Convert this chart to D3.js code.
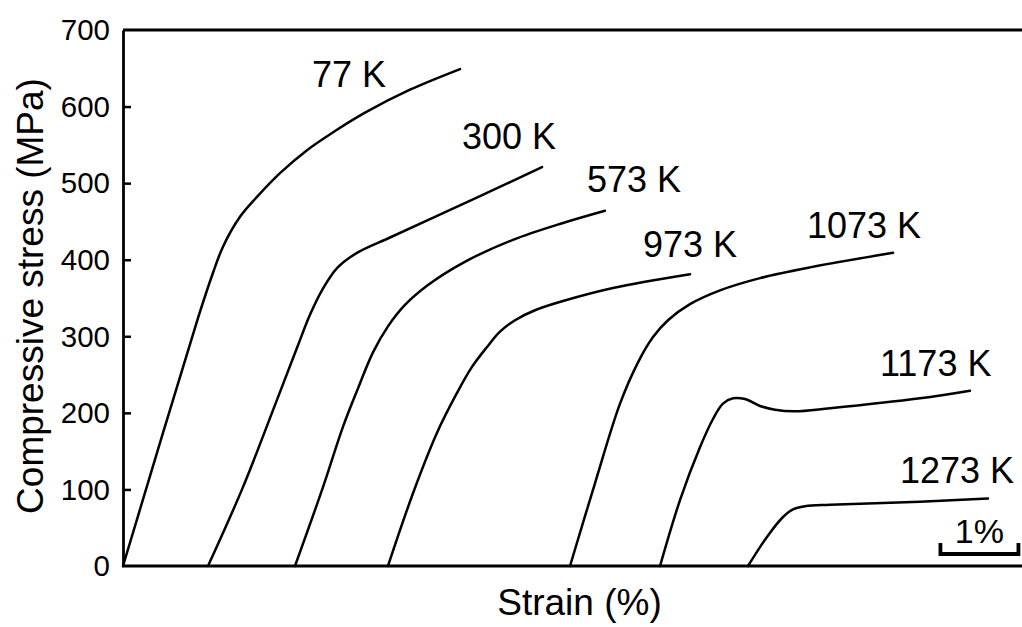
<!DOCTYPE html>
<html>
<head>
<meta charset="utf-8">
<script src="https://cdn.jsdelivr.net/npm/d3@7"></script>
<style>
  html, body { margin: 0; padding: 0; background: #fff; }
  svg { display: block; }
  text { font-family: "Liberation Sans", Arial, sans-serif; fill: #000; }
</style>
</head>
<body>
<svg id="chart" width="1022" height="627"></svg>
<script>
// ---- data (strain %, compressive stress MPa), curves offset along strain ----
const temperatures = ["77 K", "300 K", "573 K", "973 K", "1073 K", "1173 K", "1273 K"];

const curve77K = [[0,0],[0.962,324],[1.154,383],[1.282,417],[1.5,456],[1.718,482],[2.013,513],[2.359,543],[2.718,568],[3.103,592],[3.679,622],[4.321,649]];
const curve300K = [[1.09,0],[1.538,103],[1.974,217],[2.231,285],[2.397,328],[2.551,360],[2.744,389],[3.0,409],[3.423,429],[3.936,453],[4.577,483],[5.372,521]];
const curve573K = [[2.205,0],[2.564,103],[2.821,182],[3.013,232],[3.205,279],[3.397,313],[3.615,341],[3.91,367],[4.359,396],[5.0,426],[5.641,448],[6.179,464]];
const curve973K = [[3.397,0],[3.718,95],[4.026,174],[4.282,226],[4.474,260],[4.667,286],[4.833,306],[5.026,321],[5.282,334],[5.641,346],[6.282,363],[7.269,381]];
const curve1073K = [[5.731,0],[6.051,108],[6.372,212],[6.603,266],[6.795,299],[6.987,321],[7.269,342],[7.654,360],[8.167,376],[8.808,390],[9.872,409]];
const curve1173K = [[6.885,0],[7.141,86],[7.397,155],[7.564,192],[7.692,212],[7.821,219],[7.974,218],[8.167,209],[8.359,204],[8.615,202],[9.064,206],[10.218,219],[10.859,229]];
const curve1273K = [[8.013,0],[8.256,38],[8.462,64],[8.59,74],[8.744,78],[9.064,80],[10.218,84],[11.09,88]];

const curves = [curve77K, curve300K, curve573K, curve973K, curve1073K, curve1173K, curve1273K];

// label anchor (left/baseline) in data units
const labelStrain = [2.423, 4.346, 5.949, 6.667, 8.769, 9.705, 9.962];
const labelStress = [626, 544, 488, 404, 428, 248, 109];

const yTicks = [0, 100, 200, 300, 400, 500, 600, 700];
const scaleBarStrain = [10.48, 11.48];
const scaleBarLabel = "1%";
const xTitle = "Strain (%)";
const yTitle = "Compressive stress (MPa)";

// ---- layout ----
const svg = d3.select("#chart");
const mLeft = 123, mRight = 1020, mTop = 30, mBottom = 566;

const x = d3.scaleLinear().domain([0, 11.5]).range([mLeft, mRight]);
const y = d3.scaleLinear().domain([0, 700]).range([mBottom, mTop]);

// frame lines: top and bottom
svg.append("line").attr("x1", mLeft).attr("x2", 1022).attr("y1", mTop).attr("y2", mTop)
  .attr("stroke", "#000").attr("stroke-width", 2.8);
svg.append("line").attr("x1", mLeft - 1).attr("x2", 1022).attr("y1", mBottom).attr("y2", mBottom)
  .attr("stroke", "#000").attr("stroke-width", 2.8);

// left axis
const yAxis = d3.axisLeft(y).tickValues(yTicks).tickSizeInner(-8).tickSizeOuter(0).tickPadding(13);
const gy = svg.append("g").attr("transform", `translate(${mLeft},0)`).call(yAxis);
gy.select(".domain").attr("stroke", "#000").attr("stroke-width", 2.8);
gy.selectAll(".tick line").attr("stroke", "#000").attr("stroke-width", 2.5)
  .filter(d => d === 0 || d === 700).remove();
gy.selectAll(".tick text")
  .style("font-family", '"Liberation Sans", Arial, sans-serif')
  .style("font-size", "29.5px").attr("fill", "#000").attr("dy", "0.33em");

// curves
const line = d3.line().x(d => x(d[0])).y(d => y(d[1])).curve(d3.curveCatmullRom.alpha(0.5));
svg.append("g").selectAll("path").data(curves).join("path")
  .attr("d", line).attr("fill", "none").attr("stroke", "#000").attr("stroke-width", 2.5)
  .attr("stroke-linecap", "round").attr("stroke-linejoin", "round");

// labels
svg.append("g").selectAll("text").data(temperatures).join("text")
  .attr("x", (d, i) => x(labelStrain[i]))
  .attr("y", (d, i) => y(labelStress[i]))
  .style("font-size", "36px")
  .text(d => d);

// scale bar
const sb0 = x(scaleBarStrain[0]), sb1 = x(scaleBarStrain[1]);
svg.append("path")
  .attr("d", `M${sb0},543 V554 H${sb1} V543`)
  .attr("fill", "none").attr("stroke", "#000").attr("stroke-width", 3.8);
svg.append("text").attr("x", (sb0 + sb1) / 2).attr("y", 543)
  .attr("text-anchor", "middle").style("font-size", "34px").text(scaleBarLabel);

// axis titles
svg.append("text").attr("x", (mLeft + mRight) / 2 + 8).attr("y", 615)
  .attr("text-anchor", "middle").style("font-size", "37px").text(xTitle);
svg.append("text").attr("transform", "translate(43,296) rotate(-90)")
  .attr("text-anchor", "middle").style("font-size", "37px").text(yTitle);
</script>
</body>
</html>
